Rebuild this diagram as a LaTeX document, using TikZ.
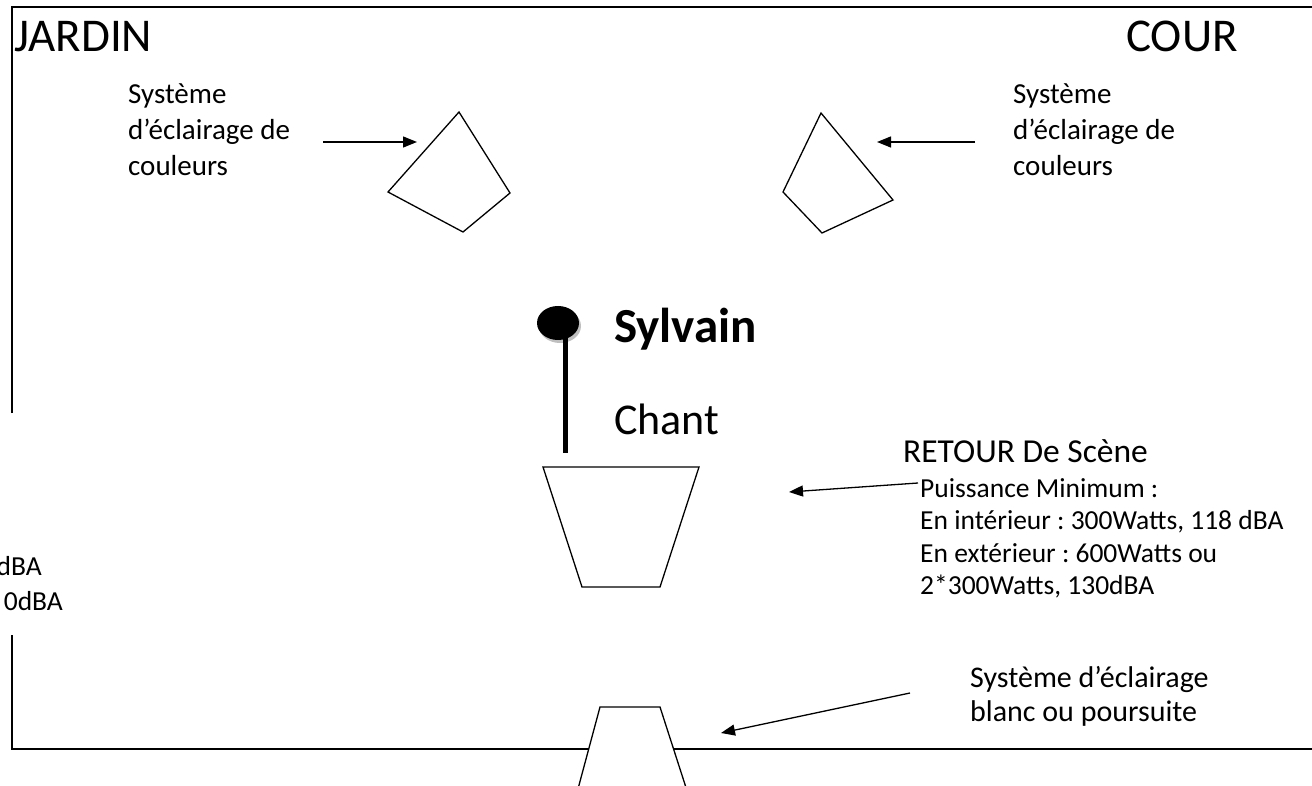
\documentclass[tikz,border=0pt]{standalone}
\usepackage{fontspec}
\setmainfont{Carlito}
\usetikzlibrary{arrows.meta}
\frenchspacing
\begin{document}
\begin{tikzpicture}[x=1pt,y=-1pt,
  frame/.style={line width=1.8pt},
  shp/.style={line width=1.3pt, fill=white, line join=miter},
  arr/.style={line width=1.3pt, -{Triangle[length=14pt,width=11pt]}},
  small/.style={font=\fontsize{29}{36}\selectfont, align=left, inner sep=0pt},
  note/.style={font=\fontsize{27.5}{32.5}\selectfont, align=left, inner sep=0pt},
  big/.style={font=\fontsize{47}{50}\selectfont, inner sep=0pt},
]
\useasboundingbox (0,0) rectangle (1312,786);
\clip (0,0) rectangle (1312,786);
% frame
\coordinate (f1) at (12,413);
\coordinate (f2) at (12,7);
\coordinate (f3) at (1320,7);
\coordinate (f4) at (12,635);
\coordinate (f5) at (12,749);
\coordinate (f6) at (1320,749);
\draw[frame] (f1) -- (f2) -- (f3);
\draw[frame] (f4) -- (f5) -- (f6);
% titles
\node[big, anchor=base west] (jardin) at (14,52) {JARDIN};
\node[big, anchor=base west] (cour) at (1126,52) {COUR};
% colour lights
\draw[shp] (459,112) -- (510,193) -- (463,232) -- (388,192) -- cycle;
\draw[shp] (821,113) -- (893,200) -- (822,233) -- (783,192) -- cycle;
\node[small, anchor=north west] (lcl) at (128,83) {Système\\d’éclairage de\\couleurs};
\node[small, anchor=north west] (rcl) at (1013,83) {Système\\d’éclairage de\\couleurs};
\coordinate (la1) at (323,142);
\coordinate (la2) at (417,142);
\coordinate (ra1) at (975,142);
\coordinate (ra2) at (877,142);
\draw[arr] (la1) -- (la2);
\draw[arr] (ra1) -- (ra2);
% performer
\fill[gray!50] (560,326) ellipse[x radius=21pt, y radius=17pt];
\fill[black] (558,323) ellipse[x radius=21pt, y radius=17pt];
\coordinate (s1) at (565,338);
\coordinate (s2) at (565,453);
\draw[line width=5pt] (s1) -- (s2);
\node[font=\fontsize{49}{50}\selectfont\bfseries, anchor=base west, inner sep=0pt] (sylvain) at (614,342) {Sylvain};
\node[font=\fontsize{44}{50}\selectfont, anchor=base west, inner sep=0pt] (chant) at (614,434) {Chant};
% retour
\draw[shp] (543,467) -- (699,467) -- (660,587) -- (582,587) -- cycle;
\node[font=\fontsize{33.5}{40}\selectfont, anchor=base west, inner sep=0pt] (retour) at (903,462) {RETOUR De Scène};
\node[note, anchor=north west] (puis) at (920,478) {Puissance Minimum :\\En intérieur : 300Watts, 118 dBA\\En extérieur : 600Watts ou\\2*300Watts, 130dBA};
\coordinate (ta1) at (918,483);
\coordinate (ta2) at (789,492);
\draw[arr] (ta1) -- (ta2);
% cut-off text at left
\node[note, anchor=base east] (d1) at (42,575) {dBA};
\node[note, anchor=base east] (d2) at (63,610) {0dBA};
% follow spot
\draw[shp] (575,800) -- (600,707) -- (660,707) -- (690,800);
\node[small, font=\fontsize{30}{34}\selectfont, anchor=north west] (ws) at (970,666) {Système d’éclairage\\blanc ou poursuite};
\coordinate (wa1) at (910,693);
\coordinate (wa2) at (721,733);
\draw[arr] (wa1) -- (wa2);
\end{tikzpicture}
\end{document}
